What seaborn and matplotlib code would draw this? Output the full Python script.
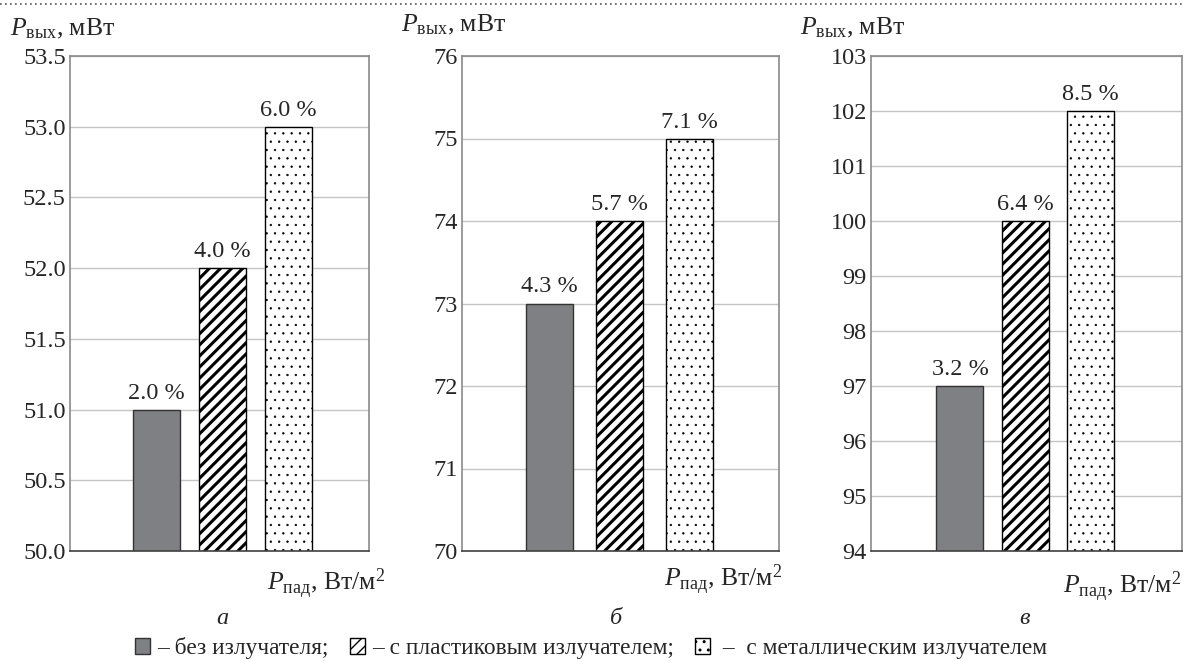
import matplotlib
matplotlib.use('Agg')
import matplotlib.pyplot as plt
from matplotlib.patches import Patch
from matplotlib.lines import Line2D
import seaborn as sns

# -------------------- Data --------------------
variants = ['без излучателя', 'с пластиковым излучателем', 'с металлическим излучателем']

power_a = [51.0, 52.0, 53.0]
gain_a = ['2.0 %', '4.0 %', '6.0 %']

power_b = [73.0, 74.0, 75.0]
gain_b = ['4.3 %', '5.7 %', '7.1 %']

power_c = [97.0, 100.0, 102.0]
gain_c = ['3.2 %', '6.4 %', '8.5 %']

y_limits = [(50.0, 53.5), (70, 76), (94, 103)]
y_steps = [0.5, 1, 1]
y_formats = ['{:.1f}', '{:.0f}', '{:.0f}']
panel_letters = ['а', 'б', 'в']

# -------------------- Style --------------------
W, H = 1184, 662
FS = 17.5

sns.set_style('white')
plt.rcParams['font.family'] = ['Liberation Serif', 'DejaVu Serif']
plt.rcParams['mathtext.fontset'] = 'custom'
plt.rcParams['mathtext.rm'] = 'Liberation Serif'
plt.rcParams['mathtext.it'] = 'Liberation Serif:italic'
plt.rcParams['hatch.linewidth'] = 1.0

bar_colors = ['#7f8083', 'white', 'white']
edge_colors = ['#333333', 'black', 'black']
hatch_colors = ['#333333', 'black', '#4a4a4a']
hatches = ['', '///', '..']
hatch_lws = [1.0, 2.2, 0.45]

# pixel boxes of the three panels (left, right); top/bottom shared
boxes = [(70, 369), (462, 779), (871, 1182)]
box_top, box_bottom = 56, 551
x_limits = [(-1.303, 3.227), (-1.25, 3.279), (-1.369, 3.415)]
bar_widths = [0.712, 0.671, 0.723]


def fx(px):
    return px / W


def fy(py):
    return 1 - py / H


def style_patch(patch, i):
    patch.set_edgecolor(edge_colors[i])
    patch.set_linewidth(1.0)
    patch.set_hatch(hatches[i])
    if hasattr(patch, 'set_hatch_linewidth'):
        patch.set_hatch_linewidth(hatch_lws[i])
    if hasattr(patch, 'set_hatchcolor'):
        patch.set_hatchcolor(hatch_colors[i])


def draw_panel(ax, values, labels, idx):
    sns.barplot(x=variants, y=values, hue=variants, palette=bar_colors,
                saturation=1, width=bar_widths[idx], legend=False, ax=ax)
    for i, patch in enumerate(ax.patches[:3]):
        style_patch(patch, i)
    for i, (v, lab) in enumerate(zip(values, labels)):
        ax.annotate(lab, (i, v), xytext=(0, 11), textcoords='offset pixels',
                    ha='center', va='baseline', fontsize=FS)

    lo, hi = y_limits[idx]
    step = y_steps[idx]
    n = int(round((hi - lo) / step))
    ticks = [lo + k * step for k in range(n + 1)]
    ax.set_ylim(lo, hi)
    ax.set_yticks(ticks)
    ax.set_yticklabels([y_formats[idx].format(t) for t in ticks], fontsize=FS)
    ax.set_xlim(*x_limits[idx])
    ax.set_xticks([])
    ax.set_xlabel('')
    ax.set_ylabel('')
    ax.tick_params(axis='y', length=0, pad=3)
    ax.yaxis.grid(True, color='#c4c4c4', linewidth=1.0)
    ax.set_axisbelow(True)
    for side in ['left', 'top', 'right']:
        ax.spines[side].set_color('#8a8a8a')
        ax.spines[side].set_linewidth(1.2)
    ax.spines['bottom'].set_color('#404040')
    ax.spines['bottom'].set_linewidth(1.2)


fig = plt.figure(figsize=(W / 100, H / 100), dpi=100)

all_values = [power_a, power_b, power_c]
all_labels = [gain_a, gain_b, gain_c]

for idx, (left, right) in enumerate(boxes):
    ax = fig.add_axes([fx(left), fy(box_bottom), fx(right - left), (box_bottom - box_top) / H])
    draw_panel(ax, all_values[idx], all_labels[idx], idx)

# axis titles
ylabel = r'$P_{\mathrm{вых}}$, мВт'
xlabel = r'$P_{\mathrm{пад}}$, Вт/м$^{2}$'
for x, y in [(10, 35), (401, 31), (800, 34)]:
    fig.text(fx(x), fy(y), ylabel, fontsize=FS + 1, ha='left', va='baseline')
for x, y in [(267, 590), (664, 586), (1063, 593)]:
    fig.text(fx(x), fy(y), xlabel, fontsize=FS + 1, ha='left', va='baseline')

# panel letters
for x, letter in zip([222, 616, 1025], panel_letters):
    fig.text(fx(x), fy(619), letter, fontsize=FS, style='italic', ha='center', va='center')

# legend
handles = []
for i in range(3):
    h = Patch(facecolor=bar_colors[i])
    style_patch(h, i)
    handles.append(h)
legend_labels = ['– ' + variants[0] + ';', '– ' + variants[1] + ';', ' –  ' + variants[2]]
fig.legend(handles, legend_labels, loc='center', bbox_to_anchor=(fx(591), fy(648)),
           ncol=3, frameon=False, fontsize=16.8, handlelength=0.65, handleheight=0.65,
           handletextpad=0.3, columnspacing=0.9, borderpad=0)

# dotted rule at the top
fig.add_artist(Line2D([0, 1], [fy(4), fy(4)], transform=fig.transFigure,
                      color='#555555', linestyle=(0, (1, 2)), linewidth=1.2))

fig.savefig('out.png', dpi=100)
